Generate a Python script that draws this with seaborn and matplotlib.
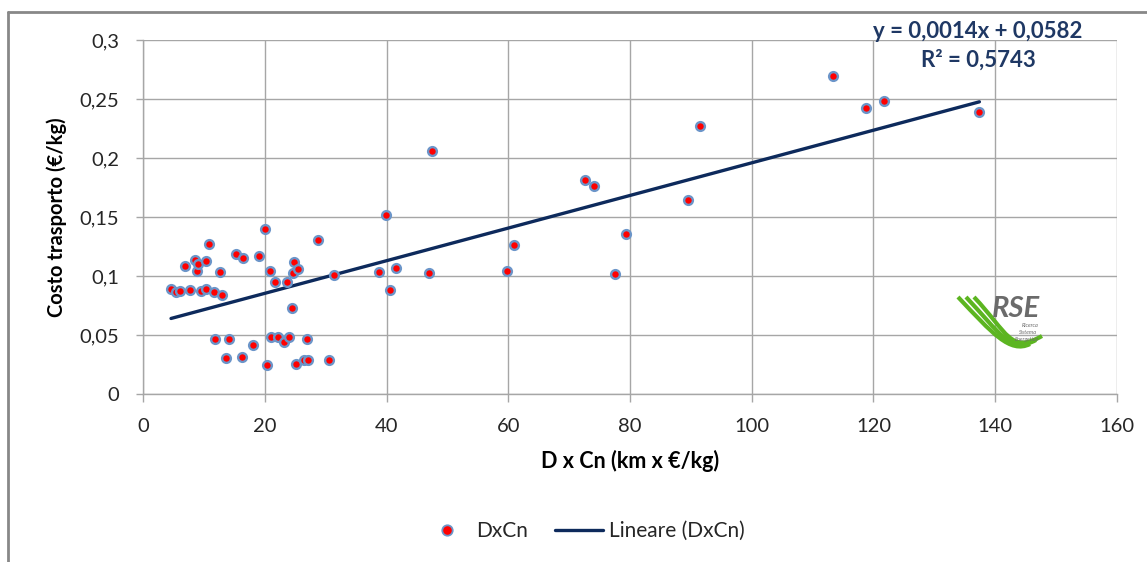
import numpy as np
import pandas as pd
import matplotlib.pyplot as plt
import seaborn as sns
from matplotlib.lines import Line2D
from matplotlib.path import Path
from matplotlib.patches import PathPatch

# Data
dxcn = [4.6, 5.4, 6.1, 6.95, 7.7, 8.5, 8.9, 9.1, 9.5, 10.3, 10.3, 10.9, 11.7, 11.9,
        12.6, 12.9, 13.6, 14.2, 15.2, 16.2, 16.4, 18.0, 19.1, 20.0, 20.4, 20.9, 21.1,
        21.6, 22.1, 23.2, 23.6, 23.9, 24.4, 24.7, 24.85, 25.1, 25.4, 26.4, 26.9, 27.1,
        28.7, 30.6, 31.4, 38.8, 39.85, 40.6, 41.6, 47.0, 47.4, 59.8, 60.9, 72.6, 74.1,
        77.5, 79.4, 89.5, 91.5, 113.3, 118.8, 121.7, 137.4]
costo = [0.0887, 0.0864, 0.0875, 0.1087, 0.0883, 0.1135, 0.1044, 0.1104, 0.0872, 0.1127,
         0.0887, 0.1268, 0.0861, 0.0463, 0.1036, 0.0841, 0.0302, 0.0463, 0.1189, 0.0310,
         0.1155, 0.0418, 0.1169, 0.1398, 0.0248, 0.1044, 0.0480, 0.0946, 0.0480, 0.0438,
         0.0949, 0.0480, 0.0731, 0.1022, 0.1118, 0.0254, 0.1056, 0.0288, 0.0469, 0.0288,
         0.1305, 0.0288, 0.1008, 0.1036, 0.1519, 0.0883, 0.1067, 0.1022, 0.2060, 0.1044,
         0.1260, 0.1813, 0.1762, 0.1013, 0.1358, 0.1640, 0.2270, 0.2695, 0.2420, 0.2485,
         0.2390]

x_ticks = [0, 20, 40, 60, 80, 100, 120, 140, 160]
y_ticks = [0, 0.05, 0.1, 0.15, 0.2, 0.25, 0.3]
y_labels = ['0', '0,05', '0,1', '0,15', '0,2', '0,25', '0,3']
equation = 'y = 0,0014x + 0,0582'
r2_text = 'R² = 0,5743'

df = pd.DataFrame({'DxCn': dxcn, 'Costo': costo})

sns.set_style('white')
plt.rcParams['font.family'] = ['Lato', 'DejaVu Sans']

text_col = '#262626'
grid_col = '#a6a6a6'
navy = '#0d2a5c'

fig = plt.figure(figsize=(11.47, 5.62), dpi=100)
ax = fig.add_axes([0.1247, 0.2989, 0.8491, 0.6299])

sns.regplot(data=df, x='DxCn', y='Costo', scatter=False, ci=None, ax=ax,
            line_kws={'color': navy, 'linewidth': 2.4, 'zorder': 2})
sns.scatterplot(data=df, x='DxCn', y='Costo', ax=ax, color='#ff0000', s=40,
                edgecolor='#6b95c9', linewidth=1.7, zorder=3, legend=False)

ax.set_xlim(0, 160)
ax.set_ylim(0, 0.3)
ax.set_xticks(x_ticks)
ax.set_xticklabels([str(t) for t in x_ticks])
ax.set_yticks(y_ticks)
ax.set_yticklabels(y_labels)
ax.grid(True, color=grid_col, linewidth=1)
ax.set_axisbelow(True)
for side in ['top', 'right']:
    ax.spines[side].set_visible(False)
for side in ['left', 'bottom']:
    ax.spines[side].set_color(grid_col)
    ax.spines[side].set_linewidth(1)
ax.tick_params(axis='x', direction='out', length=6, width=1, color=grid_col,
               labelsize=14.5, labelcolor=text_col, pad=11, bottom=True)
ax.tick_params(axis='y', direction='out', length=5, width=1, color=grid_col,
               labelsize=14.5, labelcolor=text_col, pad=12, left=True)
ax.set_xlabel('D x Cn (km x €/kg)', fontsize=15.5, fontweight='bold', color='black', labelpad=11)
ax.set_ylabel('Costo trasporto (€/kg)', fontsize=14.5, fontweight='bold', color='black', labelpad=9)

# trendline equation
fig.text(978 / 1147, 1 - 32 / 562, equation, ha='center', va='center',
         fontsize=16, fontweight='bold', color='#1f3864')
fig.text(978 / 1147, 1 - 60 / 562, r2_text, ha='center', va='center',
         fontsize=16, fontweight='bold', color='#1f3864')

# legend below the plot
handles = [Line2D([], [], marker='o', linestyle='none', markerfacecolor='#ff0000',
                  markeredgecolor='#6b95c9', markersize=7.5, markeredgewidth=1.3),
           Line2D([], [], color=navy, linewidth=2.4)]
fig.legend(handles, ['DxCn', 'Lineare (DxCn)'], loc='center', ncol=2, frameon=False,
           bbox_to_anchor=(0.509, 1 - 531 / 562), fontsize=15, handlelength=2.3,
           columnspacing=1.3, handletextpad=0.25, labelcolor=text_col)

# chart area border (top and left visible)
fig.add_artist(Line2D([8 / 1147, 8 / 1147], [0, 1 - 12 / 562], color='#888888', linewidth=2))
fig.add_artist(Line2D([8 / 1147, 1], [1 - 12 / 562, 1 - 12 / 562], color='#888888', linewidth=2))

# RSE logo (decoration) in pixel coordinates
lax = fig.add_axes([0, 0, 1, 1], zorder=5)
lax.set_xlim(0, 1147)
lax.set_ylim(562, 0)
lax.axis('off')
for i in range(3):
    start = (958 + 8 * i, 297)
    verts = [start, (start[0] + 34, 333), (1010, 354), (1030 + 6 * i, 344 - 4 * i)]
    path = Path(verts, [Path.MOVETO, Path.CURVE4, Path.CURVE4, Path.CURVE4])
    lax.add_patch(PathPatch(path, facecolor='none', edgecolor='#5cb521', linewidth=3))
lax.text(1016, 309, 'RSE', fontsize=21, fontweight='bold', style='italic',
         color='#6b6b6b', ha='center', va='center')
lax.text(1022, 327, 'Ricerca', fontsize=4, style='italic', color='#6b6b6b', ha='left')
lax.text(1019, 334, 'Sistema', fontsize=4, style='italic', color='#6b6b6b', ha='left')
lax.text(1015, 341, 'Energetico', fontsize=4, style='italic', color='#6b6b6b', ha='left')

fig.savefig('out.png', dpi=100)
